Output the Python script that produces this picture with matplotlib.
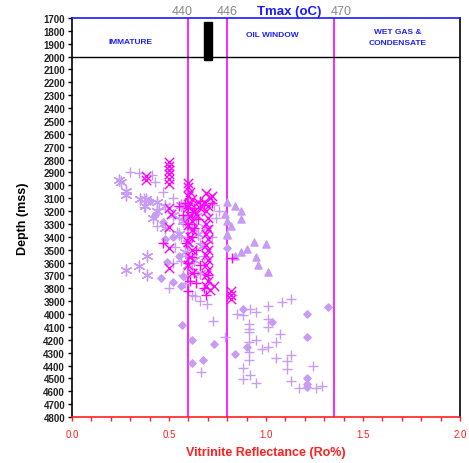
import matplotlib
matplotlib.use("Agg")
import matplotlib.pyplot as plt
from matplotlib.patches import Rectangle

plt.rcParams['font.family'] = ['Liberation Sans', 'DejaVu Sans']

# ---------------- data ----------------
plus_ro = [0.345, 0.41, 0.43, 0.37, 0.37, 0.44, 0.45, 0.54, 0.50, 0.53, 0.56, 0.30, 0.47, 0.52,
           0.55, 0.58, 0.56, 0.59, 0.62, 0.57, 0.64, 0.66, 0.68, 0.72, 0.74, 0.73, 0.76, 0.62,
           0.66, 0.58, 0.52,
           0.634, 0.696, 0.727, 0.79, 0.85, 0.88, 0.92, 0.95, 1.01, 1.08, 1.13, 1.01, 1.01, 0.91,
           0.91, 0.91, 1.07, 0.95, 0.91, 1.05, 1.01, 0.98, 0.91, 0.91, 1.05, 1.13, 1.11, 1.11,
           0.88, 1.24, 0.92, 0.88, 0.95, 1.13, 1.17, 1.26, 1.29, 0.665]
plus_depth = [2904, 2920, 2974, 3099, 3169, 3316, 3184, 3363, 3798, 3479, 3588, 2900, 3050, 3100,
              3250, 3300, 3400, 3550, 3650, 3700, 3300, 3450, 3550, 3400, 3250, 3150, 3200, 3850,
              3900, 3760, 3600,
              3860, 3922, 4054, 4179, 3999, 4008, 3961, 3984, 3938, 3907, 3884, 4039, 4101, 4078,
              4116, 4140, 4155, 4202, 4218, 4218, 4256, 4272, 4295, 4357, 4342, 4318, 4365, 4427,
              4419, 4404, 4474, 4505, 4536, 4520, 4575, 4575, 4560, 4451]

star_ro = [0.25, 0.28, 0.28, 0.35, 0.38, 0.375, 0.386, 0.345, 0.28, 0.386, 0.24, 0.44, 0.42,
           0.48, 0.55, 0.60, 0.58, 0.62, 0.57, 0.52, 0.65, 0.67, 0.63, 0.66, 0.48, 0.44, 0.60,
           0.64, 0.69, 0.56]
star_depth = [2974, 3044, 3075, 3106, 3106, 3160, 3549, 3627, 3658, 3697, 2960, 3200, 3250,
              3330, 3380, 3450, 3520, 3330, 3280, 3230, 3380, 3470, 3580, 3680, 3160, 3130, 3620,
              3240, 3330, 3150]

diam_ro = [0.88, 1.03, 1.21, 1.32, 0.62, 0.73, 0.90, 0.84, 1.21, 0.62, 0.675, 1.21, 1.21, 1.21,
           0.567, 0.47, 0.48, 0.52, 0.49, 0.46, 0.57, 0.52, 0.56, 0.80, 0.57, 0.43, 0.40,
           0.58, 0.55]
diam_depth = [3961, 4062, 3999, 3946, 4202, 4233, 4256, 4311, 4179, 4381, 4357, 4497, 4544, 4567,
              4085, 3285, 3417, 3401, 3596, 3720, 3705, 3751, 3782, 3487, 3160, 3230, 3120,
              3250, 3550]

tri_ro = [0.80, 0.84, 0.87, 0.79, 0.87, 0.80, 0.82, 0.80, 0.94, 1.00, 0.90, 0.87, 0.84, 0.96,
          1.01, 0.80, 0.95]
tri_depth = [3130, 3160, 3200, 3223, 3262, 3277, 3316, 3386, 3440, 3456, 3495, 3518, 3549, 3619,
             3674, 3378, 3560]

mx_ro = [0.50, 0.50, 0.50, 0.50, 0.50, 0.50, 0.50, 0.51, 0.50, 0.50, 0.50, 0.38, 0.38,
         0.60, 0.60, 0.61, 0.60, 0.62, 0.61, 0.60, 0.63, 0.61, 0.62, 0.60, 0.62, 0.61, 0.60,
         0.62, 0.61, 0.60, 0.62,
         0.69, 0.71, 0.72, 0.68, 0.70, 0.69, 0.70, 0.69, 0.70, 0.69, 0.70, 0.69, 0.70, 0.69,
         0.70, 0.69, 0.70, 0.69, 0.70, 0.69, 0.71, 0.73,
         0.82, 0.82, 0.82, 0.65, 0.66, 0.64]
mx_depth = [2820, 2850, 2880, 2910, 2950, 2990, 3180, 3220, 3320, 3490, 3640, 2930, 2960,
            2980, 3010, 3050, 3080, 3110, 3140, 3170, 3200, 3240, 3280, 3310, 3350, 3400, 3440,
            3500, 3560, 3620, 3680,
            3060, 3100, 3080, 3130, 3160, 3200, 3250, 3300, 3340, 3380, 3420, 3460, 3500, 3540,
            3580, 3620, 3660, 3700, 3740, 3780, 3810, 3780,
            3820, 3850, 3880, 3130, 3180, 3220]

mp_ro = [0.58, 0.60, 0.62, 0.57, 0.65, 0.60, 0.63, 0.66, 0.68, 0.72, 0.62, 0.59, 0.64, 0.62,
         0.60, 0.66, 0.63, 0.61, 0.64, 0.60, 0.70, 0.68, 0.825, 0.55, 0.47, 0.69, 0.63]
mp_depth = [3140, 3180, 3210, 3230, 3260, 3300, 3330, 3120, 3150, 3140, 3400, 3450, 3500, 3560,
            3600, 3620, 3680, 3740, 3760, 3820, 3700, 3800, 3565, 3160, 3450, 3850, 3180]

zone_bounds = [0.6, 0.8, 1.35]
tmax_labels = ["440", "446", "470"]
tmax_label_x = [0.57, 0.80, 1.39]
zone_names = ["IMMATURE", "OIL WINDOW", "WET GAS &\nCONDENSATE"]
zone_x = [0.30, 1.035, 1.68]
zone_y = [1880, 1832, 1850]

# ---------------- figure ----------------
LAV = '#c79cf3'
MAG = '#ff00ff'

fig = plt.figure(figsize=(4.69, 4.64), dpi=100)
ax = fig.add_axes([72/469, 46/464, 388/469, 399/464])

ax.set_xlim(0, 2.0)
ax.set_ylim(4800, 1700)

for xb in zone_bounds:
    ax.axvline(xb, color=MAG, lw=1.2, zorder=1)
ax.axhline(2000, color='black', lw=1.0, zorder=1)

ax.scatter(plus_ro, plus_depth, marker='+', s=60, color=LAV, linewidths=1.0, zorder=2)
ax.scatter(star_ro, star_depth, marker=(6, 2, 0), s=60, color=LAV, linewidths=1.0, zorder=2)
ax.scatter(diam_ro, diam_depth, marker='D', s=14, color=LAV, zorder=2)
ax.scatter(tri_ro, tri_depth, marker='^', s=26, color=LAV, zorder=2)
ax.scatter(mx_ro, mx_depth, marker='x', s=45, color=MAG, linewidths=1.0, zorder=3)
ax.scatter(mp_ro, mp_depth, marker='+', s=60, color=MAG, linewidths=1.0, zorder=3)

ax.add_patch(Rectangle((0.68, 1730), 0.04, 300, color='black', zorder=4))

for name, zx, zy in zip(zone_names, zone_x, zone_y):
    ax.text(zx, zy, name, color='#2222ee', fontsize=6, fontweight='bold',
            ha='center', va='center', linespacing=1.8)

for lx, lab in zip(tmax_label_x, tmax_labels):
    ax.text(lx, 1690, lab, color='#888888', fontsize=9, ha='center', va='bottom',
            clip_on=False)
ax.text(1.12, 1690, 'Tmax (oC)', color='#1a1aff', fontsize=9.5, fontweight='bold',
        ha='center', va='bottom', clip_on=False)

# axes styling
ax.set_yticks(range(1700, 4801, 100))
ax.set_xticks([0.0, 0.5, 1.0, 1.5, 2.0])
ax.set_xticks([i / 10 for i in range(21)], minor=True)
ax.set_xticklabels(['0.0', '0.5', '1.0', '1.5', '2.0'])
ax.tick_params(axis='y', labelsize=7, length=3, width=1, direction='out', pad=2)
ax.tick_params(axis='x', which='major', labelsize=7, length=3, width=1, colors='#ff2020',
               direction='out', pad=6)
ax.tick_params(axis='x', which='minor', length=3, width=1, color='#ff2020', direction='out')
for lbl in ax.get_yticklabels():
    lbl.set_fontweight('bold')
    lbl.set_color('#222222')

ax.spines['top'].set_color('#1a1aff')
ax.spines['bottom'].set_color('#ff2020')
ax.spines['left'].set_color('black')
ax.spines['right'].set_color('black')
for sp in ax.spines.values():
    sp.set_linewidth(1.2)

ax.set_ylabel('Depth (mss)', fontsize=9, fontweight='bold', color='black', labelpad=10)
ax.set_xlabel('Vitrinite Reflectance (Ro%)', fontsize=9, fontweight='bold', color='#ff2020',
              labelpad=5)

fig.savefig('out.png', dpi=100)
